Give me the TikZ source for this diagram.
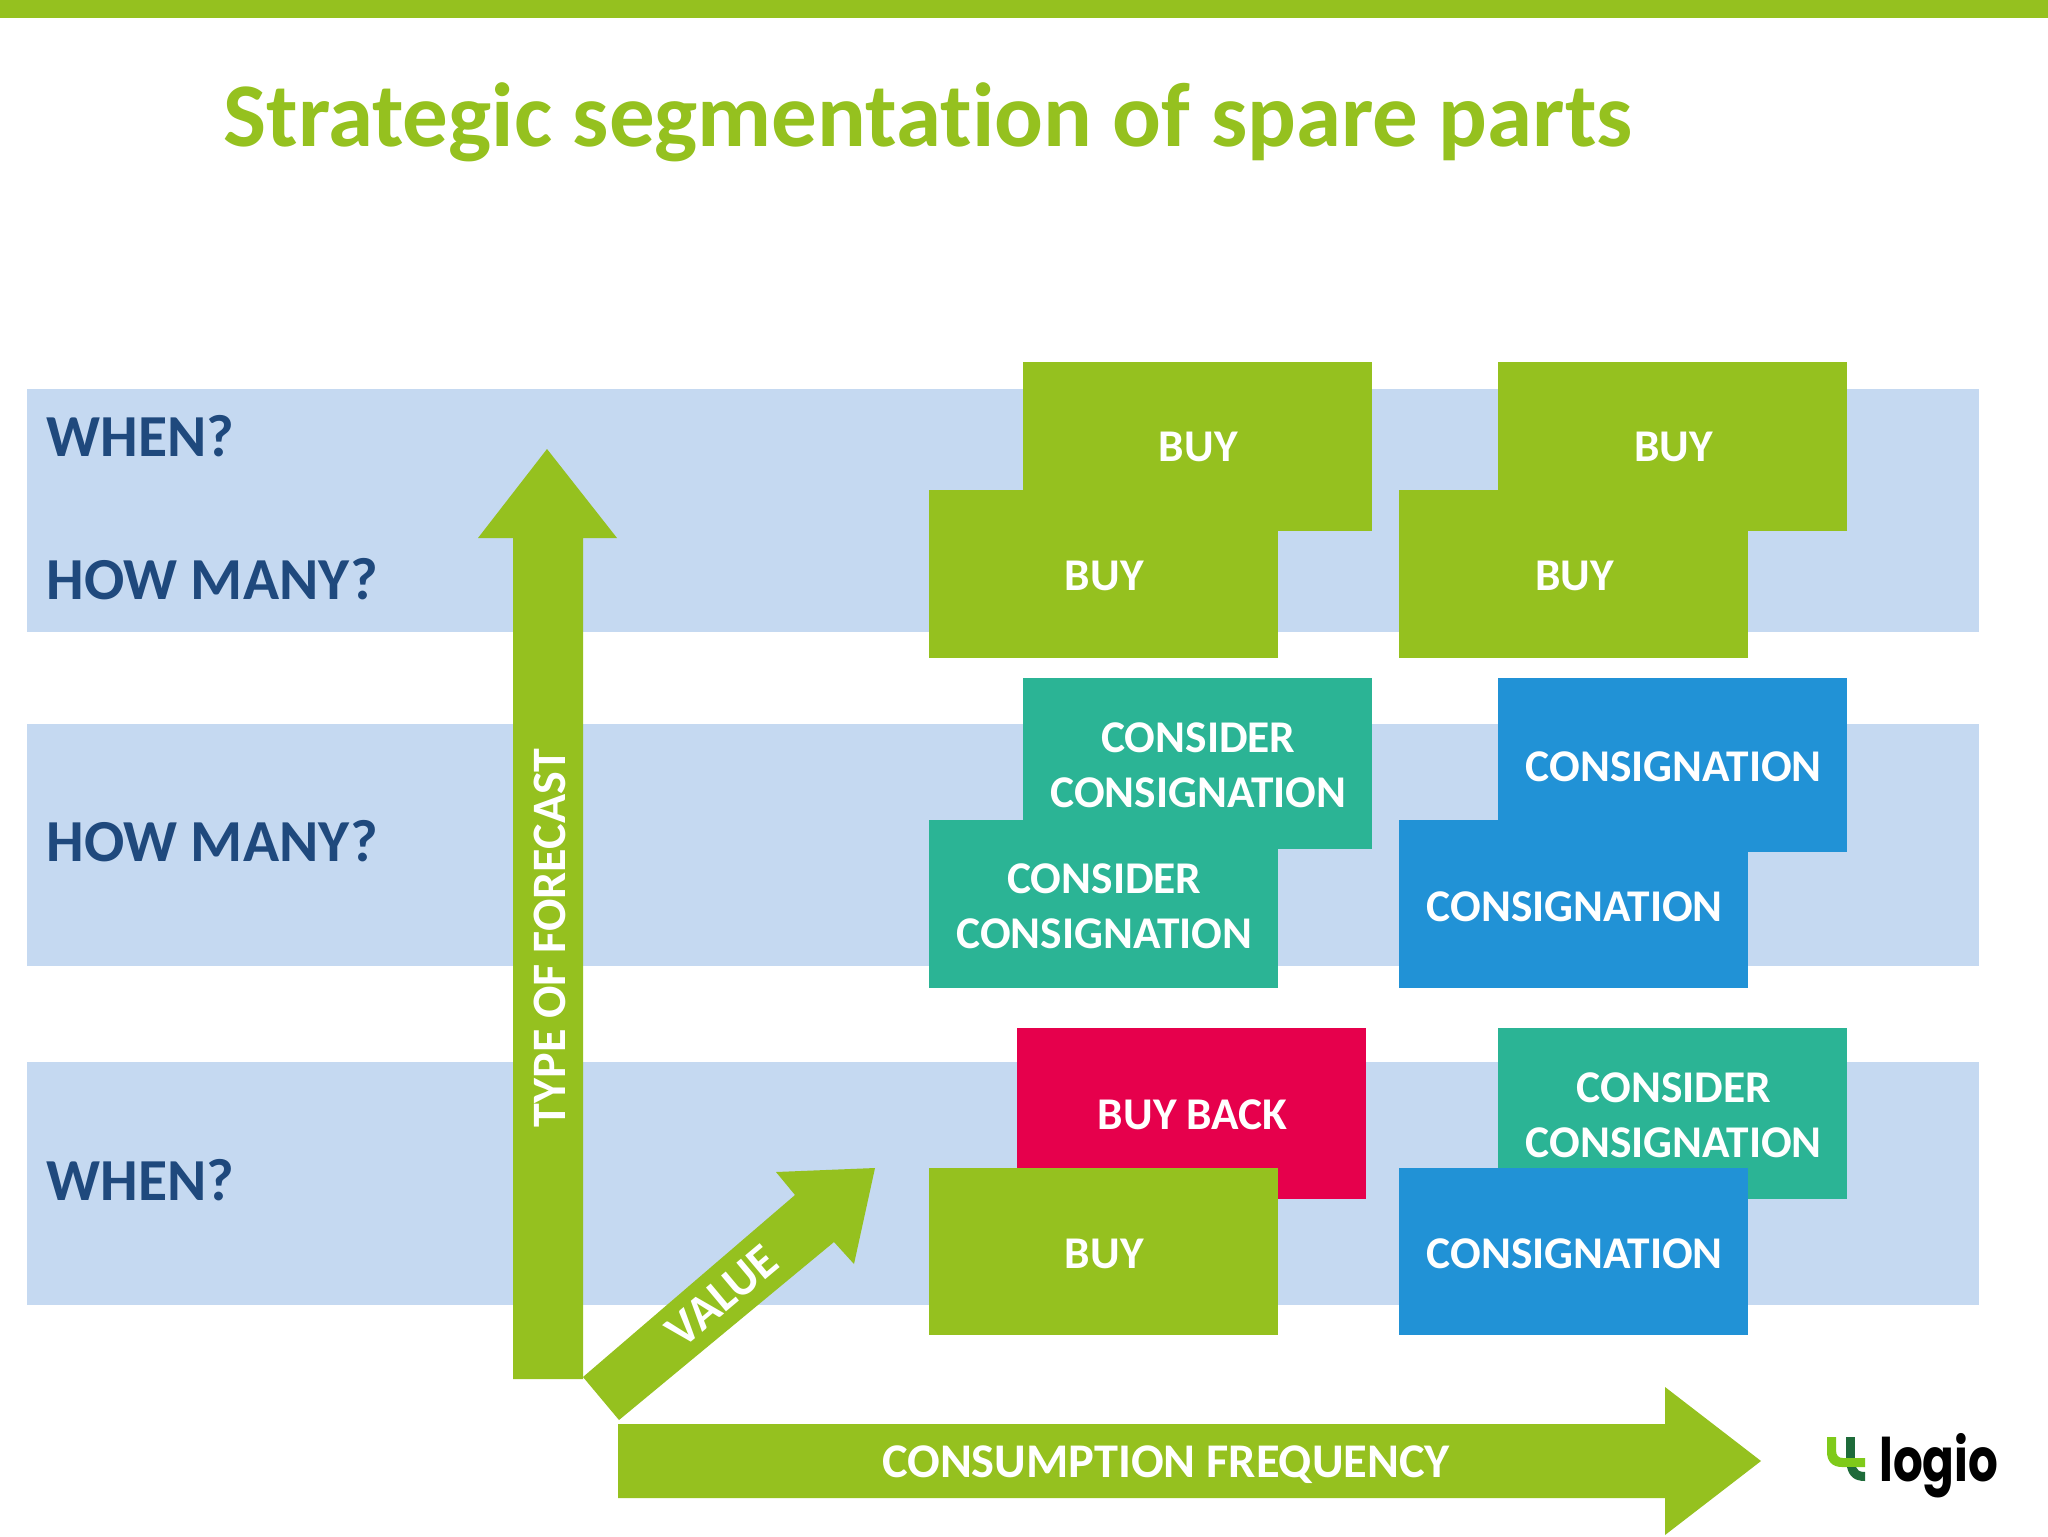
\documentclass[tikz,border=0pt]{standalone}
\usepackage{fontspec}
\setmainfont[Ligatures=NoCommon]{Carlito}
\newfontfamily\logofont{Poppins}
\definecolor{lime}{HTML}{95C11F}
\definecolor{bandblue}{HTML}{C5D9F1}
\definecolor{tealbox}{HTML}{2BB495}
\definecolor{bluebox}{HTML}{2192D6}
\definecolor{redbox}{HTML}{E6004C}
\definecolor{navy}{HTML}{1F497D}
\definecolor{logodark}{HTML}{1E6B3A}
\newcommand\tl[1]{\kern1.3pt\raisebox{-1.3pt}[\height][\depth]{#1}}
\newcommand\tlb[1]{\kern1.3pt\raisebox{-0.7pt}[\height][\depth]{#1}}
\tikzset{
  band/.style={fill=bandblue,draw=none},
  bandlabel/.style={anchor=base west,inner sep=0pt,text=navy,font=\bfseries\fontsize{29.8}{32}\selectfont},
  tile/.style={inner sep=0pt,minimum width=174.5pt,align=center,text=white,font=\bfseries\fontsize{22.7}{27.4}\selectfont},
  limetile/.style={tile,fill=lime},
  tealtile/.style={tile,fill=tealbox},
  bluetile/.style={tile,fill=bluebox},
  redtile/.style={tile,fill=redbox},
  arrowshape/.style={fill=lime,draw=none},
  arrowlabel/.style={inner sep=0pt,text=white,font=\bfseries\fontsize{24}{28}\selectfont},
}
\begin{document}
\begin{tikzpicture}[x=0.5pt,y=-0.5pt]
\useasboundingbox (0,0) rectangle (2048,1536);
\fill[white] (0,0) rectangle (2048,1536);
\fill[lime] (0,0) rectangle (2048,18);
\node[anchor=base west,inner sep=0pt,text=lime,font=\bfseries\fontsize{45.5}{50}\selectfont] (title) at (223,146) {Strategic segmentation of spare parts};
% bands
\fill[band] (27,389) rectangle (1979,632);
\fill[band] (27,724) rectangle (1979,966);
\fill[band] (27,1062) rectangle (1979,1305);
\node[bandlabel] (l1) at (46,456) {WHEN?};
\node[bandlabel] (l2) at (46,599) {HOW MANY?};
\node[bandlabel] (l3) at (46,861) {HOW MANY?};
\node[bandlabel] (l4) at (46,1200) {WHEN?};
% arrows
\fill[arrowshape] (513,1379) -- (513,538) -- (478,538) -- (547,449) -- (617,538) -- (583,538) -- (583,1379) -- cycle;
\fill[arrowshape] (583,1377) -- (795,1195) -- (776,1172) -- (875,1168) -- (854,1264) -- (834,1242) -- (619,1420) -- cycle;
\fill[arrowshape] (618,1424) -- (1665,1424) -- (1665,1387) -- (1761,1461) -- (1665,1535) -- (1665,1498) -- (618,1498) -- cycle;
\node[arrowlabel,rotate=90] (forecast) at (549.5,938) {TYPE OF FORECAST};
\node[arrowlabel,rotate=40] (value) at (722,1296) {VALUE};
\node[arrowlabel,font=\bfseries\fontsize{24.2}{28}\selectfont] (freq) at (1166,1465) {CONSUMPTION FREQUENCY};
% top row
\node[limetile,minimum height=84.5pt] (a1) at (1197,446) {\tlb{BUY}};
\node[limetile,minimum height=84pt] (a2) at (1103,573.5) {\tl{BUY}};
\node[limetile,minimum height=84.5pt] (a3) at (1672.5,446) {\tlb{BUY}};
\node[limetile,minimum height=84pt] (a4) at (1573.5,573.5) {\tl{BUY}};
% middle row
\node[tealtile,minimum height=85.5pt] (b1) at (1197,763.5) {\tlb{CONSIDER}\\\tlb{CONSIGNATION}};
\node[tealtile,minimum height=84pt] (b2) at (1103,904) {\tl{CONSIDER}\\\tl{CONSIGNATION}};
\node[bluetile,minimum height=87pt] (b3) at (1672.5,765) {\tlb{CONSIGNATION}};
\node[bluetile,minimum height=84pt] (b4) at (1573.5,904) {\tl{CONSIGNATION}};
% bottom row
\node[redtile,minimum height=85.5pt] (c1) at (1191.5,1113.5) {\tlb{BUY BACK}};
\node[limetile,minimum height=83.5pt] (c2) at (1103,1251.5) {\tl{BUY}};
\node[tealtile,minimum height=85.5pt] (c3) at (1672.5,1113.5) {\tlb{CONSIDER}\\\tlb{CONSIGNATION}};
\node[bluetile,minimum height=83.5pt] (c4) at (1573.5,1251.5) {\tl{CONSIGNATION}};
% logo
\fill[lime!85!green] (1827,1437) -- (1836,1437) -- (1836,1450) .. controls (1836,1455) and (1838,1458) .. (1843,1458) -- (1865,1458) -- (1865,1467) -- (1842,1467) .. controls (1832,1467) and (1827,1461) .. (1827,1452) -- cycle;
\fill[logodark] (1846,1437) -- (1855,1437) -- (1855,1458) -- (1846,1458) -- cycle;
\fill[logodark] (1847,1467) -- (1856,1467) .. controls (1857,1470) and (1859,1472) .. (1865,1472) -- (1865,1481) .. controls (1854,1481) and (1849,1476) .. (1847,1467) -- cycle;
\node[anchor=base west,inner sep=0pt,text=black,xscale=0.78,font=\logofont\bfseries\fontsize{30}{32}\selectfont] (logo) at (1879,1481) {logio};
\end{tikzpicture}
\end{document}
